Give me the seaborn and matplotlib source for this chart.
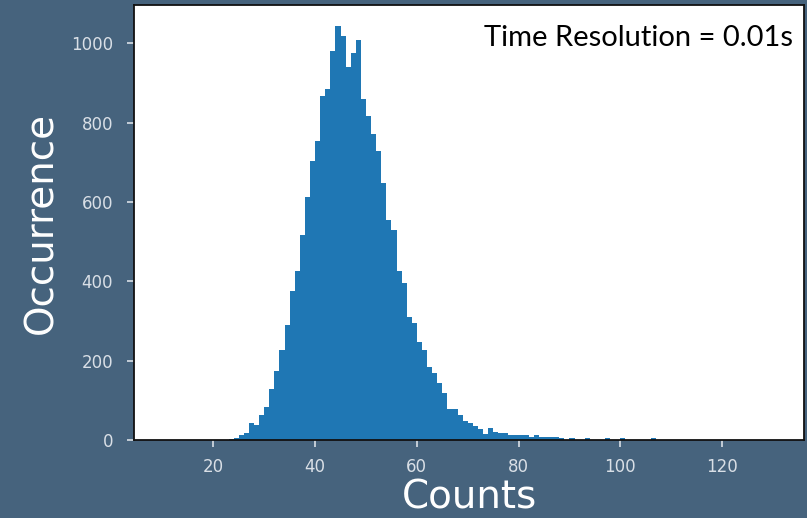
import numpy as np
import pandas as pd
import matplotlib
matplotlib.use("Agg")
import matplotlib.pyplot as plt
import seaborn as sns

# Histogram data: left bin edge (counts) and occurrence
bin_left = list(range(23, 107))
occurrence = [
    3, 5, 12, 17, 42, 37, 62, 84, 129, 174,          # 23-32
    228, 289, 375, 426, 517, 612, 703, 753, 868, 885,  # 33-42
    980, 1045, 1019, 940, 976, 1009, 860, 818, 772, 728,  # 43-52
    648, 556, 529, 426, 395, 310, 294, 248, 228, 184,  # 53-62
    169, 143, 119, 77, 77, 62, 47, 42, 35, 27,        # 63-72
    16, 31, 19, 18, 17, 12, 12, 12, 12, 8,            # 73-82
    13, 7, 7, 7, 7, 6, 0, 6, 0, 0,                    # 83-92
    6, 0, 0, 0, 5, 0, 0, 5, 0, 0,                     # 93-102
    0, 0, 0, 5,                                       # 103-106
]
x_ticks = [20, 40, 60, 80, 100, 120]
y_ticks = [0, 200, 400, 600, 800, 1000]
x_label = "Counts"
y_label = "Occurrence"
annotation = "Time Resolution = 0.01s"

df = pd.DataFrame({"left": bin_left, "occ": occurrence})
df["center"] = df["left"] + 0.5
edges = list(bin_left) + [bin_left[-1] + 1]

bg = "#46637D"
tick_col = "#d9dfe6"

sns.set_theme(style="white")
plt.rcParams["font.family"] = ["DejaVu Sans"]

fig = plt.figure(figsize=(8.07, 5.18), dpi=100, facecolor=bg)
ax = fig.add_axes([134 / 807, 1 - 440 / 518, (804 - 134) / 807, (440 - 5) / 518])
ax.set_facecolor("white")

sns.histplot(data=df, x="center", weights="occ", bins=edges, ax=ax,
             color="#1f77b4", alpha=1.0, linewidth=0, element="bars")

ax.set_xlim(4.4, 136.1)
ax.set_ylim(0, 1097)
ax.set_xticks(x_ticks)
ax.set_yticks(y_ticks)
ax.tick_params(axis="both", colors=tick_col, labelcolor=tick_col, labelsize=12,
               direction="out", length=5, width=1.2, bottom=True, left=True)
ax.tick_params(axis="x", pad=8)
ax.tick_params(axis="y", pad=10)
for s in ax.spines.values():
    s.set_color("#111111")
    s.set_linewidth(1.3)

ax.set_xlabel(x_label, fontsize=28, color="white", labelpad=2)
ax.set_ylabel(y_label, fontsize=28, color="white", labelpad=8)

fig.text(793 / 807, 1 - 38 / 518, annotation, ha="right", va="center",
         fontsize=21, color="black", family=["Lato", "DejaVu Sans"])

fig.savefig("out.png", dpi=100, facecolor=bg)
